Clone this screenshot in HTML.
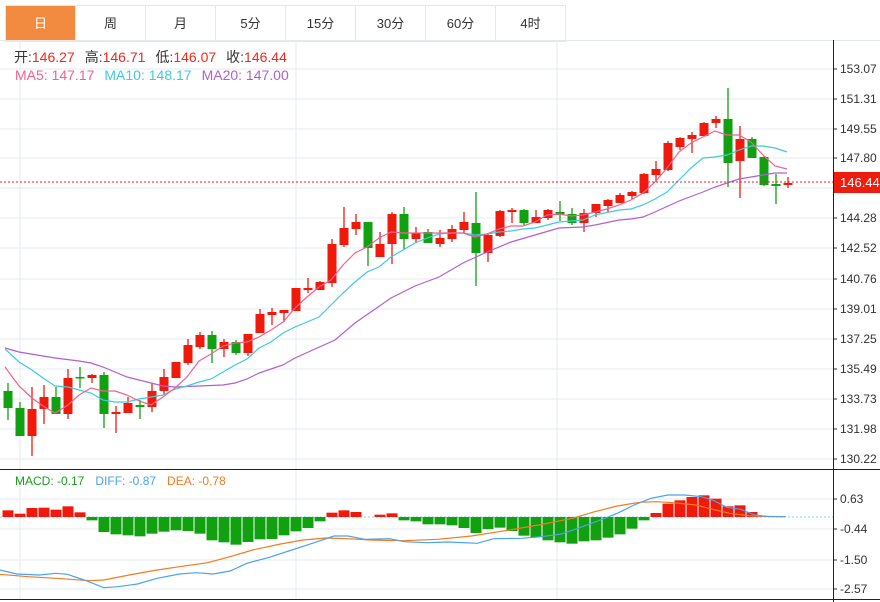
<!DOCTYPE html>
<html><head><meta charset="utf-8"><style>
body{margin:0;width:880px;height:602px;background:#fff;overflow:hidden;font-family:"Liberation Sans","Noto Sans CJK SC",sans-serif;}
.tabs{position:absolute;left:5px;top:5px;height:35px;display:flex;border:1px solid #e3e8ec;border-right:none;}
.tab{width:69px;height:35px;line-height:35px;text-align:center;font-size:13px;color:#333;border-right:1px solid #e3e8ec;}
.tab.on{background:#f28b40;color:#fff;}
svg{position:absolute;left:0;top:0;}
</style></head><body>
<div class="tabs"><div class="tab on">日</div><div class="tab">周</div><div class="tab">月</div><div class="tab">5分</div><div class="tab">15分</div><div class="tab">30分</div><div class="tab">60分</div><div class="tab">4时</div></div>
<svg id="s" width="880" height="602" xmlns="http://www.w3.org/2000/svg" font-family="Liberation Sans, Noto Sans CJK SC, sans-serif"></svg>
<script>
var s=document.getElementById('s');var h='';
h+='<line x1="0" x2="880" y1="40.5" y2="40.5" stroke="#e3e8ec"/>';
var ticks=[[153.07,69],[151.31,99],[149.55,129],[147.80,158],[146.04,188],[144.28,218],[142.52,248],[140.76,279],[139.01,309],[137.25,339],[135.49,369],[133.73,399],[131.98,429],[130.22,459]];
ticks.forEach(function(t){h+='<line x1="0" x2="833" y1="'+t[1]+'" y2="'+t[1]+'" stroke="#e6ebef"/>';h+='<line x1="833" x2="837" y1="'+t[1]+'" y2="'+t[1]+'" stroke="#333"/>';h+='<text x="840" y="'+(t[1]+4)+'" font-size="12" fill="#333">'+t[0].toFixed(2)+'</text>';});
[20,296,557].forEach(function(x){h+='<line x1="'+x+'" x2="'+x+'" y1="40" y2="600" stroke="#e6ebef"/>';});
var mt=[[0.63,499],[-0.44,529],[-1.50,560],[-2.57,589]];
mt.forEach(function(t){h+='<line x1="0" x2="833" y1="'+t[1]+'" y2="'+t[1]+'" stroke="#e6ebef"/>';h+='<line x1="833" x2="837" y1="'+t[1]+'" y2="'+t[1]+'" stroke="#333"/>';h+='<text x="840" y="'+(t[1]+4)+'" font-size="12" fill="#333">'+t[0].toFixed(2)+'</text>';});
h+='<line x1="0" x2="880" y1="469.5" y2="469.5" stroke="#222"/>';
h+='<line x1="0" x2="880" y1="599.5" y2="599.5" stroke="#222"/>';
h+='<line x1="833.5" x2="833.5" y1="40" y2="602" stroke="#222"/>';
h+='<line x1="0" x2="833" y1="517" y2="517" stroke="#8fd3e8" stroke-dasharray="2,2"/>';
var c=[[0,391,408,383,420],[0,408,436,402,436],[1,409,436,387,456],[1,397,409,385,424],[0,397,414,387,414],[1,378,414,369,419],[0,377,378,367,388],[1,375,378,374,383],[0,375,414,372,428],[1,412,414,406,433],[1,403,413,397,413],[0,405,407,400,419],[1,391,407,383,412],[1,377,391,369,395],[1,362,378,362,378],[1,345,363,339,365],[1,335,347,332,349],[0,335,349,331,363],[1,342,349,339,357],[0,342,353,340,355],[1,334,353,334,356],[1,314,333,309,333],[1,312,315,308,325],[1,310,313,310,322],[1,288,311,288,311],[1,288,290,278,293],[1,282,290,281,290],[1,244,283,239,287],[1,228,245,207,247],[1,222,229,214,235],[0,222,248,222,266],[1,244,257,232,257],[1,214,244,212,264],[0,214,239,207,249],[1,233,239,227,243],[0,232,243,229,243],[1,238,244,230,247],[1,229,239,225,242],[1,222,230,212,233],[0,223,253,192,286],[1,235,253,233,262],[1,211,236,210,237],[1,210,212,208,223],[0,210,223,209,225],[1,217,223,210,223],[1,210,218,209,220],[0,212,215,201,221],[0,214,223,208,225],[1,213,223,209,232],[1,204,213,204,217],[1,200,206,199,212],[1,195,203,193,203],[1,192,196,191,199],[1,174,193,173,194],[1,169,175,161,182],[1,143,170,141,171],[1,138,147,137,150],[1,135,139,132,153],[1,123,136,122,136],[1,119,123,116,128],[0,119,163,88,187],[1,139,161,126,198],[0,139,158,137,158],[0,157,185,156,186],[0,184,186,174,204],[1,183,185,177,188]];
function line(pts,col,w){return '<polyline fill="none" stroke="'+col+'" stroke-width="'+(w||1.2)+'" points="'+pts.map(function(p){return p.join(',')}).join(' ')+'"/>';}
var ma20=[[5,348],[19,352],[43,356],[55,358],[79,361],[91,363],[103,367],[115,372],[127,377],[139,380],[151,383],[163,386],[175,387],[199,386],[223,385],[235,383],[247,379],[259,373],[271,369],[283,365],[295,358],[335,340],[355,323],[391,298],[415,286],[439,277],[463,263],[487,252],[511,242],[535,235],[559,228],[583,227],[595,225],[619,220],[631,219],[643,217],[655,212],[679,201],[703,192],[715,187],[727,183],[739,179],[751,177],[763,175],[775,173],[787,173]];
var ma10=[[5,349],[19,362],[32,370],[43,378],[55,386],[68,387],[79,390],[91,393],[103,400],[115,402],[127,402],[139,399],[151,397],[163,395],[175,389],[187,386],[199,382],[211,379],[223,372],[235,365],[247,359],[259,348],[271,342],[283,333],[295,327],[319,317],[331,305],[343,293],[355,282],[367,272],[379,267],[391,257],[403,250],[415,243],[427,238],[439,234],[451,233],[463,233],[475,235],[487,234],[499,232],[511,231],[523,229],[535,228],[559,222],[583,220],[595,215],[619,210],[631,209],[643,205],[655,199],[667,192],[679,180],[691,168],[703,158],[715,157],[727,155],[739,150],[751,146],[763,146],[775,148],[787,152]];
var ma5=[[5,367],[19,386],[32,398],[43,406],[55,413],[68,405],[79,395],[91,388],[103,391],[115,391],[127,395],[139,401],[151,405],[163,397],[175,388],[187,377],[199,361],[211,354],[223,346],[235,343],[247,342],[259,337],[271,330],[283,322],[295,308],[307,297],[319,287],[331,280],[343,265],[355,253],[367,247],[379,238],[391,232],[403,233],[415,233],[427,233],[439,233],[451,233],[463,233],[475,237],[487,234],[499,229],[511,226],[523,226],[535,222],[547,215],[559,214],[571,216],[583,215],[595,212],[607,209],[619,205],[631,200],[643,193],[655,182],[667,168],[679,152],[691,143],[703,137],[715,131],[727,135],[739,135],[751,142],[763,155],[775,166],[787,169]];
c.forEach(function(d,i){var x=8+12*i;var col=d[0]?'#f01a0c':'#11a00f';h+='<line x1="'+x+'" x2="'+x+'" y1="'+d[3]+'" y2="'+d[4]+'" stroke="'+col+'" stroke-width="1.3"/>';h+='<rect x="'+(x-4.5)+'" y="'+d[1]+'" width="9" height="'+Math.max(1.5,d[2]-d[1])+'" fill="'+col+'"/>';});
h+=line(ma20,'#b25fcf');h+=line(ma10,'#3dcbe0');h+=line(ma5,'#f2628e');
h+='<line x1="0" x2="833" y1="182" y2="182" stroke="#f02020" stroke-dasharray="2,2"/>';
h+='<rect x="834" y="172" width="46" height="21" fill="#ee1c0c"/><text x="840" y="187" font-size="13" fill="#fff">146.44</text>';
var mh=[20,10,27,28,22,32,14,-10,-45,-52,-55,-58,-50,-44,-40,-42,-50,-70,-76,-83,-75,-67,-66,-55,-43,-33,-13,13,20,15,0,7,11,-10,-13,-22,-22,-25,-33,-48,-36,-32,-42,-56,-60,-70,-76,-80,-73,-70,-62,-52,-35,-10,12,40,50,60,65,55,32,35,15,2,0,0];
mh.forEach(function(v,i){if(!v)return;var x=8+12*i;var hh=Math.abs(v)/3;var y=v>0?517-hh:517;h+='<rect x="'+(x-5.5)+'" y="'+y+'" width="11" height="'+hh+'" fill="'+(v>0?'#f01a0c':'#11a00f')+'"/>';});
function cv(a){return a.map(function(p){return [(p[0]/1.782).toFixed(1),(460+p[1]/3).toFixed(1)];});}
var diff=[[0,330],[30,342],[70,345],[100,340],[120,343],[150,360],[185,383],[210,380],[245,372],[280,355],[320,342],[350,338],[380,342],[410,333],[440,310],[480,292],[520,270],[560,248],[595,228],[620,228],[650,238],[695,236],[720,245],[760,248],[800,246],[850,250],[880,236],[930,235],[965,230],[1000,222],[1030,205],[1070,180],[1100,160],[1130,135],[1160,115],[1190,105],[1220,105],[1250,110],[1270,120],[1295,142],[1320,148],[1345,165],[1370,170],[1400,170]];
var dea=[[0,343],[50,350],[100,355],[160,362],[185,360],[230,345],[280,330],[320,320],[370,308],[410,290],[450,270],[500,252],[540,240],[580,234],[620,236],[660,240],[720,242],[780,238],[840,228],[900,212],[960,195],[1020,175],[1060,155],[1100,138],[1140,127],[1170,125],[1200,128],[1240,135],[1270,148],[1300,160],[1340,168],[1400,170]];
h+=line(cv(dea),'#f57a1f');h+=line(cv(diff),'#4aa3ee');
h+='<text x="14" y="62" font-size="14"><tspan fill="#333">开:</tspan><tspan fill="#ee2a1c">146.27</tspan><tspan fill="#333" dx="10">高:</tspan><tspan fill="#ee2a1c">146.71</tspan><tspan fill="#333" dx="10">低:</tspan><tspan fill="#ee2a1c">146.07</tspan><tspan fill="#333" dx="10">收:</tspan><tspan fill="#ee2a1c">146.44</tspan></text>';
h+='<text x="15" y="80" font-size="14"><tspan fill="#f2628e">MA5: 147.17</tspan><tspan fill="#3dcbe0" dx="10">MA10: 148.17</tspan><tspan fill="#b25fcf" dx="10">MA20: 147.00</tspan></text>';
h+='<text x="15" y="485" font-size="12"><tspan fill="#1a9f1a">MACD: -0.17</tspan><tspan fill="#4aa3ee" dx="11">DIFF: -0.87</tspan><tspan fill="#f57a1f" dx="11">DEA: -0.78</tspan></text>';
s.innerHTML=h;
</script>
</body></html>
